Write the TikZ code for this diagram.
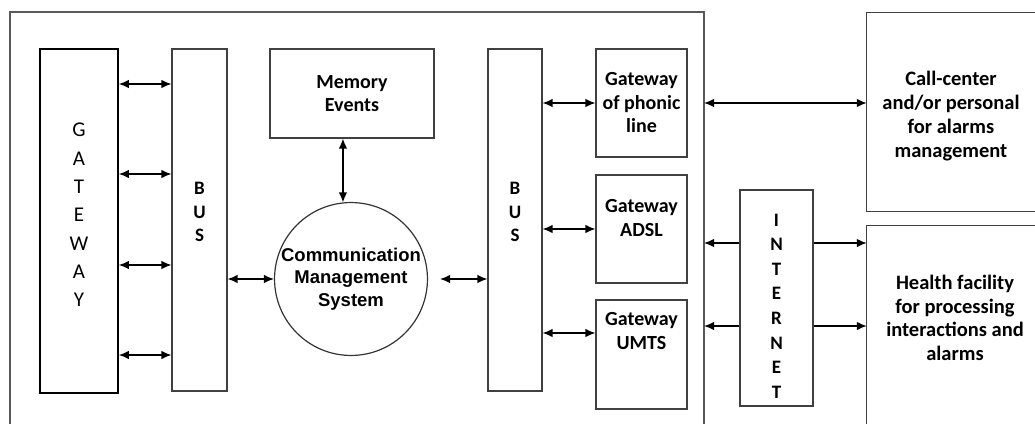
\documentclass[tikz,border=0pt]{standalone}
\usepackage{fontspec}
\setmainfont{Carlito}
\newfontfamily\arialfont{Liberation Sans}
\usetikzlibrary{arrows.meta}
\begin{document}
\begin{tikzpicture}[x=1pt,y=-1pt,
  box/.style={draw=black!75,line width=1.2pt,rectangle,inner sep=0pt},
  txt/.style={align=center,inner sep=0pt,font=\fontsize{20}{23.5}\selectfont\bfseries},
  vert/.style={align=center,inner sep=0pt},
  arr/.style={line width=1.3pt,{Latex[length=10pt,width=8.5pt]}-{Latex[length=10pt,width=8.5pt]}},
  sarr/.style={line width=1.3pt,-{Latex[length=10pt,width=8.5pt]}},
  frame/.style={draw=black!65,line width=1.5pt}]
\useasboundingbox (0,0) rectangle (1035,423);
% outer frame
\coordinate (frBL) at (10,430);
\coordinate (frTL) at (10,12);
\coordinate (frTR) at (704,12);
\coordinate (frBR) at (704,430);
\draw[frame] (frBL) -- (frTL) -- (frTR) -- (frBR);
% boxes
\node[box,draw=black,line width=1.8pt,minimum width=78pt,minimum height=344pt] (gw) at (79,221) {};
\node[vert,font=\fontsize{21}{28.3}\selectfont] (gwT) at (79,215) {G\\A\\T\\E\\W\\A\\Y};
\node[box,minimum width=55pt,minimum height=342pt] (bus1) at (199.5,220) {};
\node[vert,font=\fontsize{19}{23.5}\selectfont\bfseries] (bus1T) at (199.5,212) {B\\U\\S};
\node[box,minimum width=164pt,minimum height=89pt,txt] (mem) at (352,93.5) {Memory\\Events};
\node[draw=black!80,line width=1.2pt,circle,minimum size=144pt,inner sep=0pt,align=center,
      font=\arialfont\fontsize{18.5}{22.5}\selectfont\bfseries] (cms) at (351,279) {Communication\\Management\\System};
\node[box,minimum width=54pt,minimum height=342pt] (bus2) at (515,220) {};
\node[vert,font=\fontsize{19}{23.5}\selectfont\bfseries] (bus2T) at (515,212) {B\\U\\S};
\node[box,minimum width=91pt,minimum height=108pt,txt] (gpl) at (641.5,103) {Gateway\\of phonic\\line};
\node[box,minimum width=91pt,minimum height=108pt] (gadsl) at (641.5,229) {};
\node[txt] (gadslT) at (641.5,218) {Gateway\\ADSL};
\node[box,minimum width=91pt,minimum height=109pt] (gumts) at (641.5,354.5) {};
\node[txt] (gumtsT) at (641.5,331) {Gateway\\UMTS};
\node[box,minimum width=73pt,minimum height=216pt] (inet) at (776.5,298) {};
\node[vert,font=\fontsize{19}{24.6}\selectfont\bfseries] (inetT) at (776.5,306) {I\\N\\T\\E\\R\\N\\E\\T};
% right boxes (cut by the page edge)
\node[minimum width=170pt,minimum height=198pt,inner sep=0pt] (call) at (952,112) {};
\node[txt,font=\fontsize{20.5}{23.8}\selectfont\bfseries] (callT) at (951,116) {Call-center\\and/or personal\\for alarms\\management};
\draw[draw=black!75,line width=1.2pt] (call.north east) -- (call.north west) -- (call.south west) -- (call.south east);
\node[minimum width=170pt,minimum height=210pt,inner sep=0pt] (health) at (952,331) {};
\node[txt,font=\fontsize{20.5}{23.5}\selectfont\bfseries] (healthT) at (955,318) {Health facility\\for processing\\interactions and\\alarms};
\draw[draw=black!75,line width=1.2pt] (health.north east) -- (health.north west) -- (health.south west);
% connectors
\foreach \yy in {84,174,265,355}
  \draw[arr] (gw.east |- 0,\yy) -- (bus1.west |- 0,\yy);
\draw[arr] (bus1.east |- cms.west) -- (cms.west);
\draw[arr] (mem.south -| cms.96) -- (cms.96);
\draw[arr,shorten <=12pt] (cms.east) -- (bus2.west |- cms.east);
\draw[arr] (bus2.east |- gpl.west) -- (gpl.west);
\draw[arr] (bus2.east |- gadsl.west) -- (gadsl.west);
\draw[arr] (bus2.east |- 0,333) -- (gumts.west |- 0,333);
\draw[arr] (frTR |- gpl.west) -- (call.west |- gpl.west);
\foreach \yy in {243,326} {
  \draw[sarr] (inet.west |- 0,\yy) -- (frTR |- 0,\yy);
  \draw[sarr] (inet.east |- 0,\yy) -- (health.west |- 0,\yy);
}
\end{tikzpicture}
\end{document}
